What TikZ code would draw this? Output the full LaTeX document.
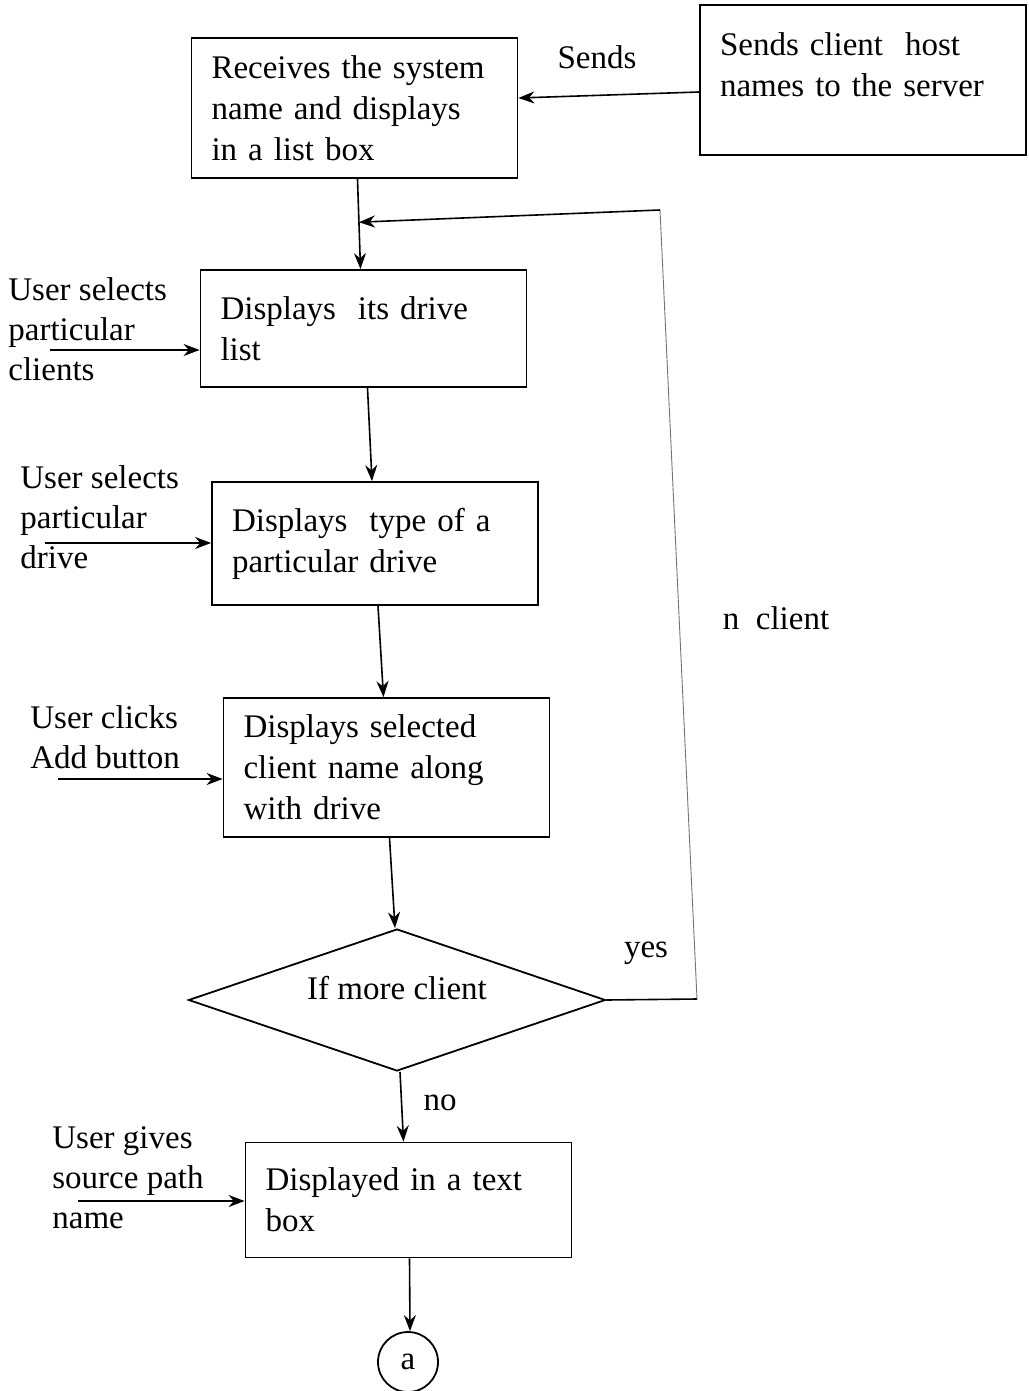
\documentclass[tikz,border=0pt]{standalone}
\usepackage{fontspec}
\setmainfont{Liberation Serif}
\usetikzlibrary{shapes.geometric,arrows.meta,calc}
\begin{document}
\begin{tikzpicture}[x=0.5pt,y=-0.5pt,
  font=\fontsize{16.5}{20.5}\selectfont,
  box/.style={draw,line width=0.9pt,rectangle,text width=143pt,inner xsep=10pt,inner ysep=4pt,align=left},
  arr/.style={line width=0.8pt,-{Stealth[length=8pt,width=6pt]}},
  lbl/.style={inner sep=0pt,align=left,anchor=north west,font=\fontsize{16.5}{20}\selectfont},
  tag/.style={inner sep=1pt}]
\useasboundingbox (0,0) rectangle (1028,1391);

% process boxes
\node[box,minimum height=70pt] (b1) at (354.5,108) {Receives the system\\name and displays\\in a list box};
\node[box,inner ysep=14pt] (sv) at (863,80)
  {\parbox[c][47pt][t]{143pt}{Sends client\ \ host\\names to the server}};
\node[box,minimum height=58.5pt] (b2) at (363.5,328.5) {Displays\ \ its drive\\list};
\node[box,minimum height=61.5pt] (b3) at (375,543.5) {Displays\ \ type of a\\particular drive};
\node[box,minimum height=69.5pt] (b4) at (386.5,767.5) {Displays selected\\client name along\\with drive};
\node[draw,line width=0.9pt,diamond,aspect=2.9,minimum width=208.5pt,minimum height=71pt,inner sep=0pt,text depth=12pt] (d) at (397,1000) {If more client};
\node[box,minimum height=57.5pt] (b5) at (408.5,1200) {Displayed in a text\\box};
\node[draw,line width=0.9pt,circle,minimum size=30pt,inner sep=0pt] (c) at (408,1362) {a};

% user actions on the left
\node[lbl] (l1) at (8,277) {User selects\\particular\\clients};
\node[lbl] (l2) at (20,465) {User selects\\particular\\drive};
\node[lbl] (l3) at (30,705) {User clicks\\Add button};
\node[lbl] (l4) at (52,1126) {User gives\\source path\\name};

\coordinate (i1) at (50,350);
\coordinate (i2) at (45,543);
\coordinate (i3) at (58,779);
\coordinate (i4) at (78,1201);
\draw[arr] (i1) -- (i1 -| b2.west);
\draw[arr] (i2) -- (i2 -| b3.west);
\draw[arr] (i3) -- (i3 -| b4.west);
\draw[arr] (i4) -- (i4 -| b5.west);

% main flow
\draw[arr] ([yshift=-6pt]sv.west) -- ([yshift=5pt]b1.east);
\draw[arr] ([xshift=1.5pt]b1.south) -- ([xshift=-1.5pt]b2.north);
\draw[arr] ([xshift=2pt]b2.south) -- ([xshift=-1.5pt]b3.north);
\draw[arr] ([xshift=1.5pt]b3.south) -- ([xshift=-1.5pt]b4.north);
\draw[arr] ([xshift=1.5pt]b4.south) -- ([xshift=-1pt]d.north);
\draw[arr] ([xshift=1.5pt]d.south) -- ([xshift=-2.5pt]b5.north);
\draw[arr] ([xshift=0.5pt]b5.south) -- ([xshift=1pt]c.north);

% loop back for the next client
\coordinate (j) at ($([xshift=1.5pt]b1.south)!0.48!([xshift=-1.5pt]b2.north)$);
\coordinate (lb) at (697,999);
\coordinate (lt) at (660,210);
\draw[line width=0.8pt] (d.east) -- (lb);
\draw[line width=0.45pt,black!55] (lb) -- (lt);
\draw[arr] (lt) -- (j);

% connector labels
\node[tag] (tsend) at (597,57) {Sends};
\node[tag] (tyes) at (646,953) {yes};
\node[tag] (tn) at (776,618) {n\ \ client};
\node[tag] (tno) at (440,1103) {no};
\end{tikzpicture}
\end{document}
